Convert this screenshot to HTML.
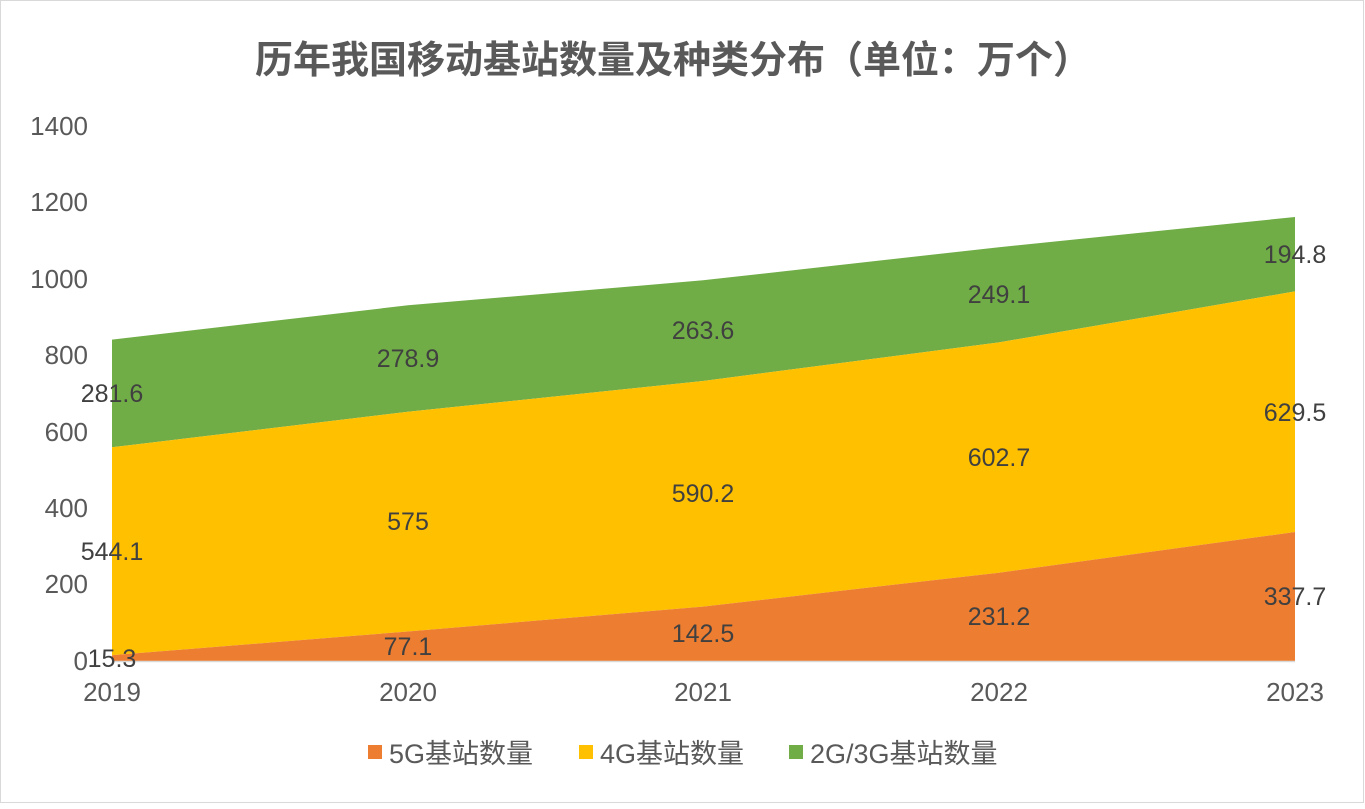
<!DOCTYPE html>
<html><head><meta charset="utf-8"><style>
body{margin:0;background:#fff;}
svg text{font-family:"Liberation Sans","Noto Sans CJK SC",sans-serif;fill:#595959;}
</style></head><body>
<svg width="1365" height="804" viewBox="0 0 1365 804" xmlns="http://www.w3.org/2000/svg">
<rect x="0.5" y="0.5" width="1363" height="802" fill="#fff" stroke="#d9d9d9"/>
<text x="673" y="73" font-size="38" font-weight="bold" text-anchor="middle" fill="#595959">历年我国移动基站数量及种类分布（单位：万个）</text>
<g font-size="26" text-anchor="end">
<text x="88" y="135">1400</text><text x="88" y="211">1200</text><text x="88" y="288">1000</text>
<text x="88" y="364">800</text><text x="88" y="441">600</text><text x="88" y="517">400</text>
<text x="88" y="593">200</text><text x="88" y="670">0</text>
</g>
<polygon fill="#70ad47" points="112,339.6 408,305.3 703,280.3 999,247.2 1295,217 1295,291.4 999,342.4 703,381 408,411.8 112,447.3"/>
<polygon fill="#ffc000" points="112,447.3 408,411.8 703,381 999,342.4 1295,291.4 1295,532 999,572.7 703,606.6 408,631.5 112,655.2"/>
<polygon fill="#ed7d31" points="112,655.2 408,631.5 703,606.6 999,572.7 1295,532 1295,661 112,661"/>
<line x1="112" y1="661.5" x2="1295" y2="661.5" stroke="#d9d9d9" stroke-width="1.5"/>
<g font-size="26" text-anchor="middle" fill="#404040">
<text x="112" y="701">2019</text><text x="408" y="701">2020</text><text x="703" y="701">2021</text><text x="999" y="701">2022</text><text x="1295" y="701">2023</text>
</g>
<g font-size="25" text-anchor="middle" style="fill:#404040">
<text x="112" y="402" style="fill:#404040">281.6</text><text x="112" y="560" style="fill:#404040">544.1</text><text x="112" y="667" style="fill:#404040">15.3</text>
<text x="408" y="367" style="fill:#404040">278.9</text><text x="408" y="530" style="fill:#404040">575</text><text x="408" y="655" style="fill:#404040">77.1</text>
<text x="703" y="339" style="fill:#404040">263.6</text><text x="703" y="502" style="fill:#404040">590.2</text><text x="703" y="642" style="fill:#404040">142.5</text>
<text x="999" y="303" style="fill:#404040">249.1</text><text x="999" y="466" style="fill:#404040">602.7</text><text x="999" y="625" style="fill:#404040">231.2</text>
<text x="1295" y="263" style="fill:#404040">194.8</text><text x="1295" y="421" style="fill:#404040">629.5</text><text x="1295" y="605" style="fill:#404040">337.7</text>
</g>
<g font-size="27">
<rect x="368" y="745" width="14" height="14" fill="#ed7d31"/><text x="389" y="763">5G基站数量</text>
<rect x="579" y="745" width="14" height="14" fill="#ffc000"/><text x="600" y="763">4G基站数量</text>
<rect x="789" y="745" width="14" height="14" fill="#70ad47"/><text x="810" y="763">2G/3G基站数量</text>
</g>
</svg>
</body></html>
